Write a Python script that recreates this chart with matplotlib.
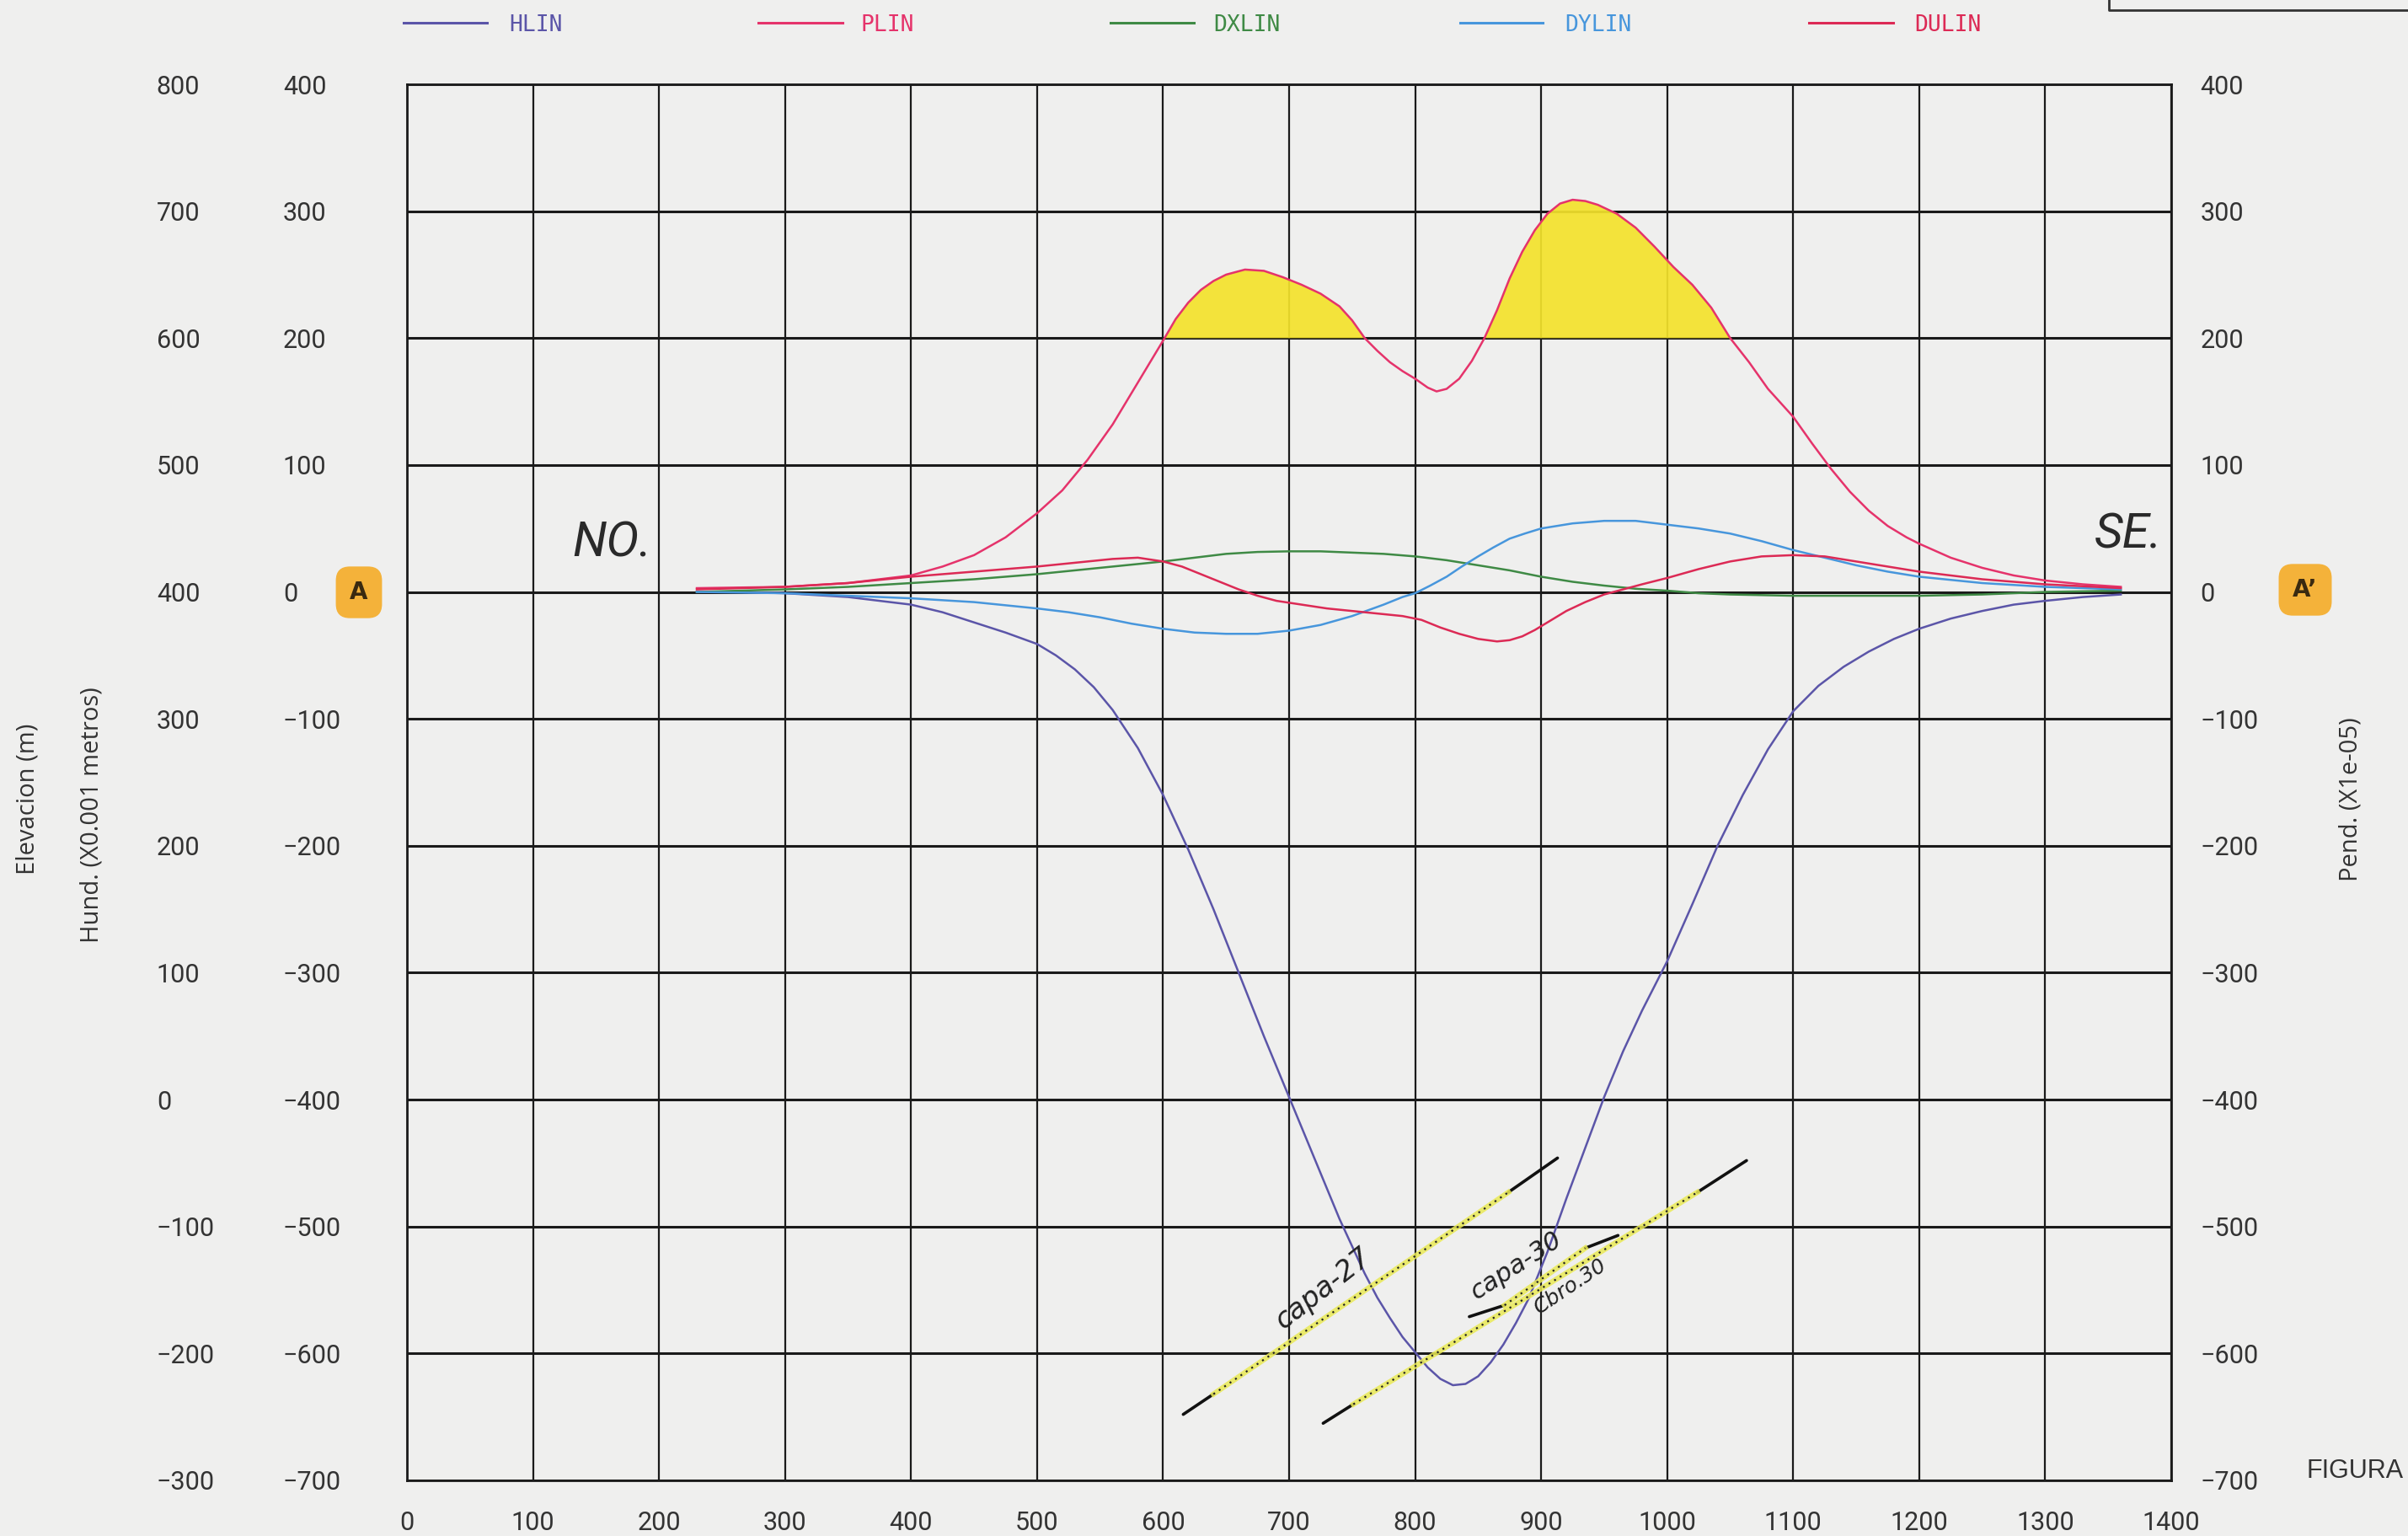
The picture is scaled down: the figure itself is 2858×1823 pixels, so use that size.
import matplotlib.pyplot as plt
from matplotlib.lines import Line2D

hlin_x = [230, 260, 300, 350, 400, 425, 450, 475, 500, 515, 530, 545, 560, 580, 600, 620, 640, 660,
          680, 700, 720, 740, 760, 770, 780, 790, 800, 810, 820, 830, 840, 850, 860, 870, 880, 890,
          905, 920, 935, 950, 965, 980, 1000, 1020, 1040, 1060, 1080, 1100, 1120, 1140, 1160, 1180,
          1200, 1225, 1250, 1275, 1300, 1330, 1360]
hlin_y = [0, 0, -1, -4, -10, -16, -24, -32, -41, -50, -61, -75, -93, -123, -160, -203, -250, -300,
          -350, -398, -446, -494, -537, -556, -572, -587, -599, -611, -620, -625, -624, -618, -607,
          -593, -576, -557, -520, -478, -438, -398, -362, -330, -291, -246, -200, -160, -124, -94,
          -74, -59, -47, -37, -29, -21, -15, -10, -7, -4, -2]

plin_x = [230, 300, 350, 400, 425, 450, 475, 500, 520, 540, 560, 580, 600, 610, 620, 630, 640, 650,
          665, 680, 695, 710, 725, 740, 750, 760, 770, 780, 790, 800, 810, 817, 825, 835, 845, 855,
          865, 875, 885, 895, 905, 915, 925, 935, 945, 960, 975, 990, 1005, 1020, 1035, 1050, 1065,
          1080, 1100, 1115, 1130, 1145, 1160, 1175, 1190, 1200, 1225, 1250, 1275, 1300, 1330, 1360]
plin_y = [3, 4, 7, 13, 20, 29, 43, 62, 80, 104, 132, 165, 198, 215, 228, 238, 245, 250,
          254, 253, 248, 242, 235, 225, 214, 200, 190, 181, 174, 168, 161, 158, 160, 168, 182, 200,
          222, 247, 268, 285, 298, 306, 309, 308, 305, 298, 287, 272, 256, 242, 224, 200, 181,
          160, 138, 117, 97, 79, 64, 52, 43, 38, 27, 19, 13, 9, 6, 4]

dxlin_x = [230, 300, 350, 400, 450, 500, 550, 600, 625, 650, 675, 700, 725, 750, 775, 800, 825, 850,
           875, 900, 925, 950, 975, 1000, 1025, 1050, 1100, 1150, 1200, 1250, 1300, 1360]
dxlin_y = [0, 2, 4, 7, 10, 14, 19, 24, 27, 30, 31.5, 32, 32, 31, 30, 28, 25, 21,
           17, 12, 8, 5, 2.5, 1, -1, -2, -3, -3, -3, -2, 0, 1]

dylin_x = [230, 300, 350, 400, 450, 500, 525, 550, 575, 600, 625, 650, 675, 700, 725, 750, 775, 790,
           800, 812, 825, 837, 850, 862, 875, 887, 900, 925, 950, 975, 1000, 1025, 1050, 1075, 1100,
           1125, 1150, 1175, 1200, 1250, 1300, 1360]
dylin_y = [0, -1, -3, -5, -8, -13, -16, -20, -25, -29, -32, -33, -33, -30.5, -26, -19, -10, -4,
           -1, 5, 12, 20, 28, 35, 42, 46, 50, 54, 56, 56, 53, 50, 46, 40, 33,
           27, 21, 16, 12, 7, 4, 2]

dulin_x = [230, 300, 350, 400, 450, 500, 530, 560, 580, 600, 615, 630, 645, 660, 675, 690, 710, 730,
           750, 770, 790, 805, 820, 835, 850, 865, 875, 885, 895, 905, 920, 935, 950, 965, 980, 1000,
           1025, 1050, 1075, 1100, 1125, 1150, 1175, 1200, 1250, 1300, 1360]
dulin_y = [2, 4, 7, 12, 16, 20, 23, 26, 27, 24, 20, 14, 8, 2, -3, -7, -10, -13,
           -15, -17, -19, -22, -28, -33, -37, -39, -38, -35, -30, -24, -15, -8, -2, 2, 6, 11,
           18, 24, 28, 29, 28, 24, 20, 16, 10, 6, 3]

# capas de carbon dibujadas a mano
capa27_x = [616, 640, 874, 913]
capa27_y = [-648, -632, -473, -446]
capa30_x = [727, 751, 1024, 1063]
capa30_y = [-655, -640, -473, -448]
cbro30_x = [843, 871, 935, 961]
cbro30_y = [-571, -562, -517, -507]

x_ticks = list(range(0, 1401, 100))
hund_ticks = list(range(-700, 401, 100))
elev_ticks = list(range(-300, 801, 100))

series = [
    ("HLIN", hlin_x, hlin_y, "#5b55a8"),
    ("PLIN", plin_x, plin_y, "#e5336b"),
    ("DXLIN", dxlin_x, dxlin_y, "#3f8a45"),
    ("DYLIN", dylin_x, dylin_y, "#4796dc"),
    ("DULIN", dulin_x, dulin_y, "#dc2a55"),
]

W, H = 2858, 1823
def fx(px):
    return px / W
def fy(py):
    return 1 - py / H

def lab(v):
    return str(v).replace("-", "\u2212")

paper = "#efefee"
ink = "#333333"
fig = plt.figure(figsize=(W / 100, H / 100), dpi=100, facecolor=paper)
ax = fig.add_axes([fx(483), fy(1757), fx(2577) - fx(483), fy(100) - fy(1757)])
ax.set_facecolor(paper)
ax.set_xlim(0, 1400)
ax.set_ylim(-700, 400)

for v in x_ticks:
    ax.axvline(v, color="#1a1a1a", lw=1.6, zorder=1)
for v in hund_ticks:
    ax.axhline(v, color="#1a1a1a", lw=2.2, zorder=1)
for s in ax.spines.values():
    s.set_color("#1a1a1a")
    s.set_linewidth(2.0)

ax.set_xticks(x_ticks, labels=[lab(v) for v in x_ticks], fontsize=22, family="Roboto", color=ink)
ax.tick_params(axis="x", length=0, pad=26)
ax.set_yticks(hund_ticks, labels=[lab(v) for v in hund_ticks], ha="left", fontsize=22,
              family="Roboto", color=ink)
ax.tick_params(axis="y", length=0, pad=106)

elev = ax.secondary_yaxis("left", functions=(lambda h: h + 400, lambda e: e - 400))
elev.set_yticks(elev_ticks, labels=[lab(v) for v in elev_ticks], ha="left", fontsize=22,
                family="Roboto", color=ink)
elev.tick_params(length=0, pad=214)
elev.spines["left"].set_visible(False)

pend = ax.secondary_yaxis("right")
pend.set_yticks(hund_ticks, labels=[lab(v) for v in hund_ticks], fontsize=22,
                family="Roboto", color=ink)
pend.tick_params(length=0, pad=25)
pend.spines["right"].set_visible(False)

# zonas sombreadas en amarillo (PLIN > 200)
ax.fill_between(plin_x, 200, plin_y, where=[v >= 200 for v in plin_y], interpolate=True,
                color="#f4e32c", alpha=0.92, lw=0, zorder=2)

for name, xs, ys, c in series:
    ax.plot(xs, ys, color=c, lw=1.8, zorder=3, solid_joinstyle="round")

for xs, ys in [(capa27_x, capa27_y), (capa30_x, capa30_y), (cbro30_x, cbro30_y)]:
    ax.plot(xs[0:2], ys[0:2], color="#111111", lw=2.6, solid_capstyle="round", zorder=4)
    ax.plot(xs[2:4], ys[2:4], color="#111111", lw=2.6, solid_capstyle="round", zorder=4)
    ax.plot(xs[1:3], ys[1:3], color="#eaea55", lw=4.5, alpha=0.85, zorder=4)
    ax.plot(xs[1:3], ys[1:3], color="#222222", lw=1.6, ls=(0, (1, 2.5)), zorder=5)

ax.text(727, -549, "capa-27", rotation=38, fontsize=24, style="italic", color="#222222",
        ha="center", va="center", zorder=6)
ax.text(880, -531, "capa-30", rotation=33, fontsize=22, style="italic", color="#222222",
        ha="center", va="center", zorder=6)
ax.text(923, -547, "Cbro.30", rotation=34, fontsize=18, style="italic", color="#222222",
        ha="center", va="center", zorder=6)
ax.text(163, 38, "NO.", fontsize=42, style="italic", family="Roboto", color="#2a2a2a",
        ha="center", va="center", zorder=6)
ax.text(1366, 45, "SE.", fontsize=42, style="italic", family="Roboto", color="#2a2a2a",
        ha="center", va="center", zorder=6)

# leyenda superior
leg_pos = [(479, 578, 604), (900, 1000, 1022), (1318, 1417, 1440), (1733, 1831, 1857), (2147, 2247, 2272)]
for (name, xs, ys, c), (l0, l1, t0) in zip(series, leg_pos):
    fig.add_artist(Line2D([fx(l0), fx(l1)], [fy(27), fy(27)], color=c, lw=2.2))
    fig.text(fx(t0), fy(30), name, color=c, fontsize=19, family="DejaVu Sans Mono",
             ha="left", va="center")

# marco superior derecho
fig.add_artist(Line2D([fx(2503), fx(2503), fx(2858)], [fy(0), fy(12), fy(12)], color="#333333", lw=2))

fig.text(fx(33), fy(948), "Elevacion (m)", rotation=90, fontsize=21, family="Open Sans",
         color=ink, ha="center", va="center")
fig.text(fx(109), fy(967), "Hund. (X0.001 metros)", rotation=90, fontsize=21, family="Open Sans",
         color=ink, ha="center", va="center")
fig.text(fx(2790), fy(949), "Pend. (X1e-05)", rotation=90, fontsize=21, family="Open Sans",
         color=ink, ha="center", va="center")
fig.text(fx(2738), fy(1746), "FIGURA", fontsize=22, family="Liberation Sans", color=ink,
         ha="left", va="center")

box = dict(boxstyle="round,pad=0.6", fc="#f4b23a", ec="none")
fig.text(fx(426), fy(703), "A", fontsize=20, weight="bold", color="#3a2a10", ha="center",
         va="center", bbox=box)
fig.text(fx(2736), fy(700), "A\u2019", fontsize=20, weight="bold", color="#3a2a10", ha="center",
         va="center", bbox=box)

fig.savefig("out.png", dpi=100, facecolor=paper)
